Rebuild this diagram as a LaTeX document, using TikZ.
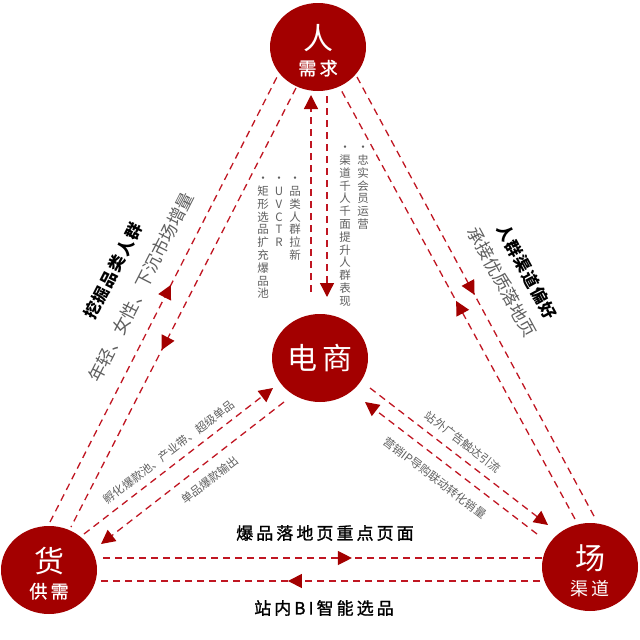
\documentclass[tikz,border=0pt]{standalone}
\usepackage{fontspec}
\setmainfont{Noto Sans CJK SC}
\newfontfamily\spacedfont[LetterSpace=18]{Noto Sans CJK SC}
\newfontfamily\mediumfont[LetterSpace=18, FakeBold=1.3]{Noto Sans CJK SC}
\newfontfamily\heavyfont[LetterSpace=8]{Noto Sans CJK SC}
\usetikzlibrary{shapes.geometric,arrows.meta,decorations.markings}

\definecolor{hubred}{RGB}{163,0,0}
\definecolor{flowred}{RGB}{192,22,34}
\definecolor{notegray}{RGB}{95,95,95}

\tikzset{
	hub/.style={ellipse, fill=hubred, text=white, minimum width=96pt, minimum height=88pt, inner sep=0pt, align=center},
	flow/.style={flowred, line width=1.3pt, dash pattern=on 7pt off 5pt},
	endarrow/.style={-{Triangle[width=14pt,length=14pt,color=hubred]}},
	midarrow/.style={postaction={decorate}, decoration={markings, mark=at position #1 with {\arrow{Triangle[width=14pt,length=14pt,color=hubred]}}}},
	vcol/.style={anchor=north, inner sep=0pt, align=center, text=notegray, font=\fontsize{11.5}{12.8}\selectfont},
	boldnote/.style={inner sep=0pt, font=\heavyfont\bfseries\fontsize{16.5}{18}\selectfont},
	graynote/.style={inner sep=0pt, text=notegray, font=\fontsize{17.5}{18}\selectfont},
	smallnote/.style={inner sep=0pt, text=notegray, font=\fontsize{11.5}{12}\selectfont}
}

\begin{document}
\begin{tikzpicture}[x=1pt, y=-1pt]
	\useasboundingbox (0,0) rectangle (640,640);

	% hubs
	\node[hub] (ren) at (318,47) {{\fontsize{30}{30}\selectfont\rule{0pt}{32pt}人}\\[7pt]{\fontsize{18}{18}\selectfont\mediumfont 需求}};
	\node[hub] (dianshang) at (320,358) {\fontsize{30}{30}\selectfont\spacedfont 电商};
	\node[hub] (huo) at (49,570) {{\fontsize{30}{30}\selectfont\rule{0pt}{32pt}货}\\[7pt]{\fontsize{18}{18}\selectfont\mediumfont 供需}};
	\node[hub] (chang) at (590,567) {{\fontsize{30}{30}\selectfont\rule{0pt}{32pt}场}\\[7pt]{\fontsize{18}{18}\selectfont\spacedfont 渠道}};

	% line ends
	\coordinate (rd1s) at (311,292);
	\coordinate (rd1e) at (311,95);
	\coordinate (rd2s) at (327,96);
	\coordinate (rd2e) at (327,297);
	\coordinate (rh1s) at (50,522);
	\coordinate (rh1e) at (277,77);
	\coordinate (rh2s) at (296,88);
	\coordinate (rh2e) at (71,527);
	\coordinate (rc1s) at (357,77);
	\coordinate (rc1e) at (595,518);
	\coordinate (rc2s) at (575,519);
	\coordinate (rc2e) at (340,88);
	\coordinate (hd1s) at (84,534);
	\coordinate (hd1e) at (273,388);
	\coordinate (hd2s) at (284,402);
	\coordinate (hd2e) at (101,544);
	\coordinate (dc1s) at (370,388);
	\coordinate (dc1e) at (548,525);
	\coordinate (dc2s) at (537,534);
	\coordinate (dc2e) at (365,402);
	\coordinate (hc1s) at (103,558);
	\coordinate (hc1e) at (542,558);
	\coordinate (hc2s) at (540,581);
	\coordinate (hc2e) at (97,581);

	% ren - dianshang
	\draw[flow, endarrow] (rd1s) -- (rd1e);
	\draw[flow, endarrow] (rd2s) -- (rd2e);

	% ren - huo
	\draw[flow, midarrow=0.533] (rh1s) -- (rh1e);
	\draw[flow, midarrow=0.597] (rh2s) -- (rh2e);

	% ren - chang
	\draw[flow, midarrow=0.494] (rc1s) -- (rc1e);
	\draw[flow, midarrow=0.506] (rc2s) -- (rc2e);

	% huo - dianshang
	\draw[flow, endarrow] (hd1s) -- (hd1e);
	\draw[flow, endarrow] (hd2s) -- (hd2e);

	% dianshang - chang
	\draw[flow, endarrow] (dc1s) -- (dc1e);
	\draw[flow, endarrow] (dc2s) -- (dc2e);

	% huo - chang
	\draw[flow, midarrow=0.567] (hc1s) -- (hc1e);
	\draw[flow, midarrow=0.569] (hc2s) -- (hc2e);

	% vertical notes
	\node[vcol] (colA) at (263,177) {·\\矩\\形\\选\\品\\扩\\充\\爆\\品\\池};
	\node[vcol] (colB) at (279,177) {·\\U\\V\\C\\T\\R};
	\node[vcol] (colC) at (295,177) {·\\品\\类\\人\\群\\拉\\新};
	\node[vcol] (colD) at (345,146) {·\\渠\\道\\千\\人\\千\\面\\提\\升\\人\\群\\表\\现};
	\node[vcol] (colE) at (363,146) {·\\忠\\实\\会\\员\\运\\营};

	% side notes
	\node[boldnote, rotate=63] (wajue) at (113,271) {挖掘品类人群};
	\node[graynote, rotate=63] (nianqing) at (141,287) {年轻、女性、下沉市场增量};
	\node[boldnote, rotate=-61.5] (pianhao) at (527,272) {人群渠道偏好};
	\node[graynote, rotate=-61.5] (chengjie) at (502,282) {承接优质落地页};

	\node[smallnote, rotate=37.5] (fuhua) at (169,452) {孵化爆款池、产业带、超级单品};
	\node[smallnote, rotate=37.5] (danpin) at (210,480) {单品爆款输出};
	\node[smallnote, rotate=-37.5] (zhanwai) at (463,442) {站外广告触达引流};
	\node[smallnote, rotate=-37.5] (yingxiao) at (435,478) {营销IP导购联动转化销量};

	\node[inner sep=0pt, font=\fontsize{17}{18}\selectfont\mediumfont] (baopin) at (325,533) {爆品落地页重点页面};
	\node[inner sep=0pt, font=\fontsize{17}{18}\selectfont\mediumfont] (zhannei) at (324,608) {站内BI智能选品};

\end{tikzpicture}
\end{document}
